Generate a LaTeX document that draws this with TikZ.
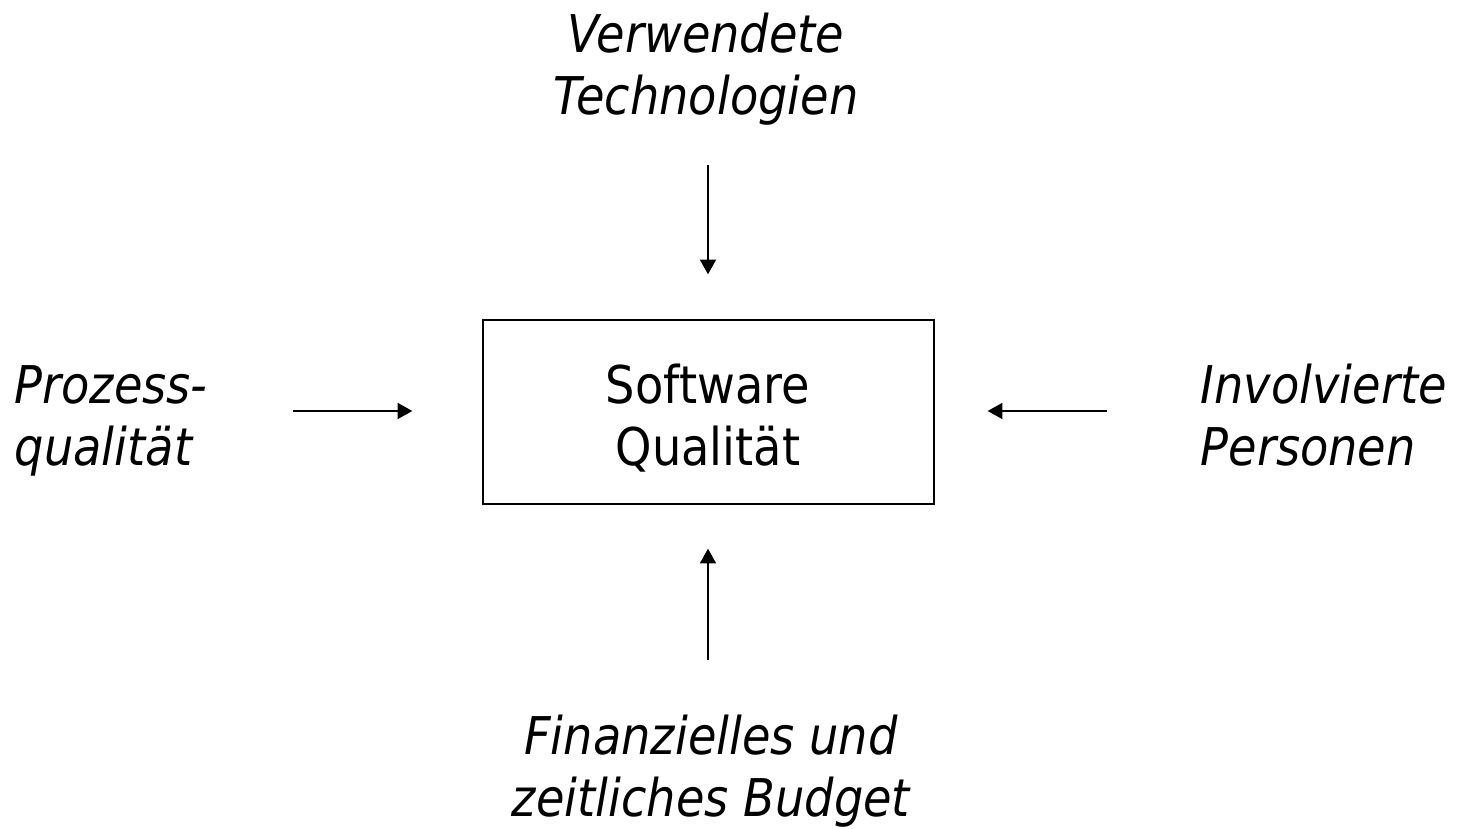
\documentclass[tikz,border=0pt]{standalone}
\usepackage{fontspec}
\setmainfont{DejaVu Sans}[FakeStretch=0.89]
\usepackage{tikz}
\usetikzlibrary{arrows.meta}

\tikzset{
  txt/.style = {inner sep=0, font=\fontsize{14.8}{17.9}\selectfont\itshape},
  arr/.style = {-{Triangle[width=4.6pt,length=4.2pt]}, thin}
}

\begin{document}
\begin{tikzpicture}[scale = 1]
\useasboundingbox (0,0) rectangle (14.6,8.28);
\node [draw, thin, minimum width=4.51cm, minimum height=1.84cm] (box) at (7.085,4.16) {};
\node [inner sep=0, anchor=base, align=center, font=\fontsize{14.8}{17.9}\selectfont] (qual) at (7.08,3.62) {Software\\Qualit\"at};
\node [txt, anchor=base, align=center] (tech) at (7.06,7.13) {Verwendete\\Technologien};
\node [txt, anchor=base west, align=left] (proc) at (0.14,3.62) {Prozess-\\qualit\"at};
\node [txt, anchor=base west, align=left] (pers) at (12.0,3.62) {Involvierte\\Personen};
\node [txt, anchor=base, align=center] (budg) at (7.11,0.11) {Finanzielles und\\zeitliches Budget};
\coordinate (techIn) at (7.08,6.63);
\coordinate (budgIn) at (7.08,1.68);
\coordinate (procIn) at (2.93,4.17);
\coordinate (persIn) at (11.07,4.17);
\draw [arr, shorten >=0.45cm] (techIn) -- (techIn |- box.north);
\draw [arr, shorten >=0.44cm] (budgIn) -- (budgIn |- box.south);
\draw [arr, shorten >=0.70cm] (procIn) -- (procIn -| box.west);
\draw [arr, shorten >=0.53cm] (persIn) -- (persIn -| box.east);
\end{tikzpicture}
\end{document}
